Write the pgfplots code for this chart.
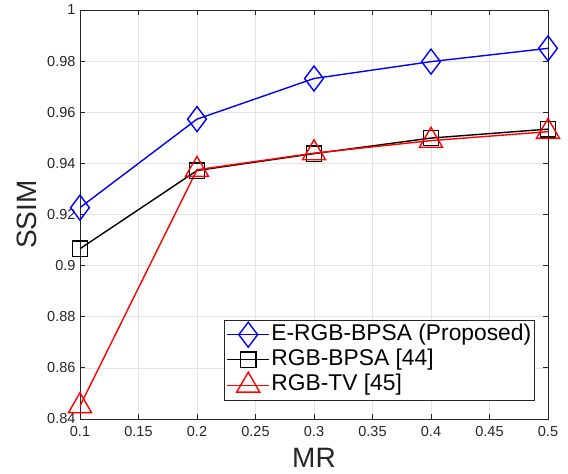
\documentclass[border=0pt]{standalone}
\usepackage{fontspec}
\setmainfont{Liberation Sans}
\usepackage{pgfplots}
\pgfplotsset{compat=1.18}
\definecolor{axgray}{RGB}{38,38,38}
\definecolor{gridgray}{RGB}{228,228,228}
\begin{document}
\begin{tikzpicture}
\begin{axis}[
  at={(0,0)}, anchor=south west,
  scale only axis, width=468pt, height=409pt,
  xmin=0.1, xmax=0.5, ymin=0.84, ymax=1,
  xtick={0.1,0.15,...,0.5},
  xticklabels={0.1,0.15,0.2,0.25,0.3,0.35,0.4,0.45,0.5},
  ytick={0.84,0.86,...,1.0},
  yticklabels={0.84,0.86,0.88,0.9,0.92,0.94,0.96,0.98,1},
  tick align=inside,
  major tick length=5pt,
  grid=major,
  major grid style={draw=gridgray, line width=0.6pt},
  axis line style={draw=axgray, line width=0.8pt},
  tick style={draw=axgray, line width=0.8pt},
  ticklabel style={font=\fontsize{14.5}{16}\selectfont, text=axgray},
  xticklabel style={yshift=-4pt},
  yticklabel style={xshift=-1pt},
  /pgf/number format/assume math mode=true,
  xlabel={MR}, ylabel={SSIM},
  xlabel style={at={(axis description cs:0.5,-0.0954)}, anchor=center, font=\fontsize{28}{32}\selectfont, text=axgray},
  ylabel style={at={(axis description cs:-0.113,0.5)}, anchor=center, rotate=0, font=\fontsize{28}{32}\selectfont, text=axgray},
  legend style={at={(axis description cs:0.972,0.046)}, anchor=south east,
    font=\fontsize{22.8}{26}\selectfont, draw=axgray,
    cells={anchor=west}, row sep=0pt, inner xsep=2pt, inner ysep=2pt,
    nodes={inner xsep=1.5pt, inner ysep=2pt, text height=16pt, text depth=5pt}},
  legend image code/.code={\draw[line width=1.4pt, mark repeat=2,mark phase=2] plot coordinates {(0pt,0pt)(21pt,0pt)(42pt,0pt)};},
]
\addplot[blue, line width=1.4pt, mark=diamond, mark size=12.5pt, mark options={line width=1.4pt, fill=none}] coordinates {
(0.1,0.9227) (0.2,0.9573) (0.3,0.9732) (0.4,0.9798) (0.5,0.9850)};
\addlegendentry{E-RGB-BPSA (Proposed)}
\addplot[black, line width=1.4pt, mark=square, mark size=7.7pt, mark options={line width=1.4pt, fill=none}] coordinates {
(0.1,0.9066) (0.2,0.9372) (0.3,0.9438) (0.4,0.9499) (0.5,0.9534)};
\addlegendentry{RGB-BPSA [44]}
\addplot[red, line width=1.4pt, mark=triangle, mark size=13.3pt, mark options={line width=1.4pt, fill=none}] coordinates {
(0.1,0.8451) (0.2,0.9375) (0.3,0.9440) (0.4,0.9489) (0.5,0.9524)};
\addlegendentry{RGB-TV [45]}
\end{axis}
\pgfresetboundingbox
\path[use as bounding box] (-80pt,-55pt) rectangle (488pt,419pt);
\end{tikzpicture}
\end{document}
